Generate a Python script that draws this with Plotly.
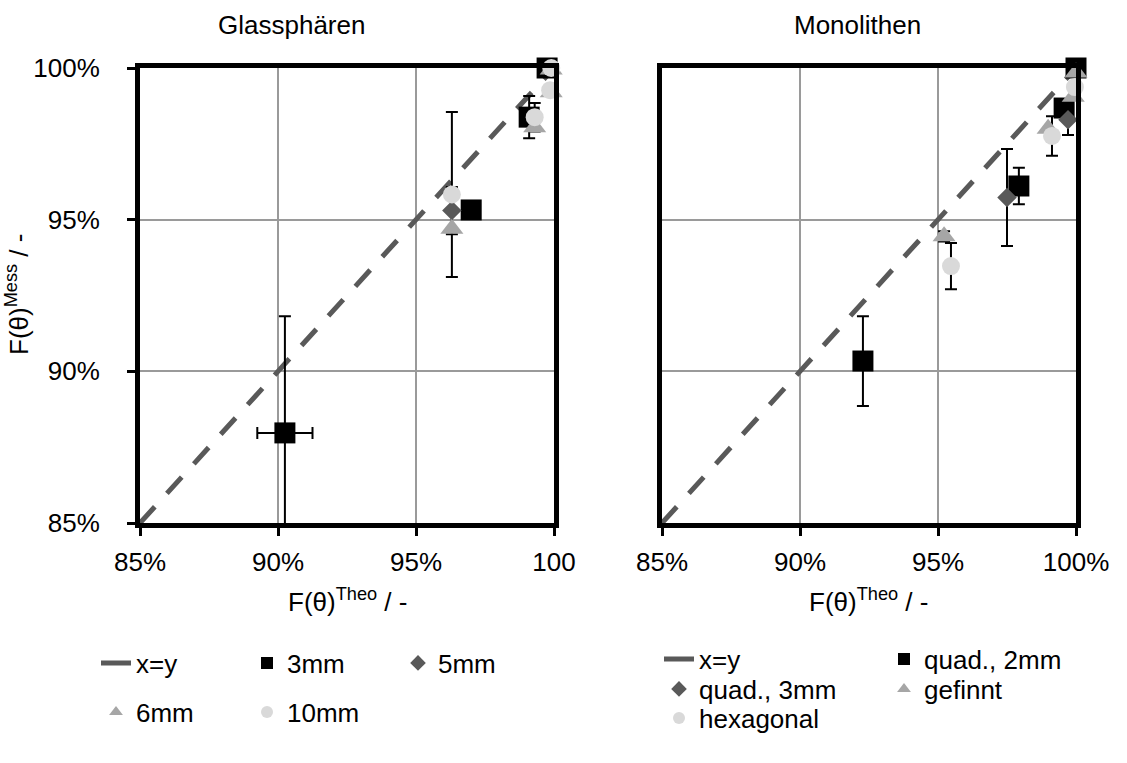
import plotly.graph_objects as go

W, H = 1127, 763
FONT = "Liberation Sans, Arial, sans-serif"
FS = 26

# ---------------- data (percent) ----------------
diag = [85, 100]

# Glassphären
g3_x = [90.25, 97.0, 99.1, 99.75]
g3_y = [87.97, 95.32, 98.38, 100.0]
g3_ey = [3.85, None, 0.7, None]
g3_ex = [1.0, None, None, None]

g5_x = [96.3]
g5_y = [95.3]
g5_ey = [0.78]

g6_x = [96.3, 99.3, 99.9, 99.9]
g6_y = [94.7, 98.05, 99.2, 99.95]

g10_x = [96.3, 99.3, 99.86, 99.9]
g10_y = [95.83, 98.38, 99.27, 100.0]
g10_ey = [2.72, 0.47, None, None]

# Monolithen
mq2_x = [92.28, 97.93, 99.57, 100.0]
mq2_y = [90.34, 96.11, 98.68, 100.0]
mq2_ey = [1.48, 0.6, None, None]

mq3_x = [97.5, 99.71, 100.08, 100.1]
mq3_y = [95.73, 98.29, 99.3, 100.0]
mq3_ey = [1.6, 0.5, None, None]

mfin_x = [95.22, 98.99, 99.9, 100.0]
mfin_y = [94.45, 98.0, 99.05, 99.85]
mfin_ey = [0.17, None, None, None]

mhex_x = [95.47, 99.13, 99.96, 100.05]
mhex_y = [93.47, 97.76, 99.37, 100.0]
mhex_ey = [0.76, 0.65, None, None]

tickvals = [85, 90, 95, 100]
ticktext_left = ["85%", "90%", "95%", "100"]
ticktext_right = ["85%", "90%", "95%", "100%"]

# ---------------- styles ----------------
C_SQ, C_DI, C_TR, C_CI = "#000000", "#595959", "#a6a6a6", "#d9d9d9"
M_SQ = dict(symbol="square", size=21, color=C_SQ)
M_DI = dict(symbol="diamond", size=15, color=C_DI)
M_TR = dict(symbol="triangle-up", size=20, color=C_TR)
M_CI = dict(symbol="circle", size=18, color=C_CI)

fig = go.Figure()


def err(arr):
    return dict(type="data", array=arr, visible=True, color="black", thickness=2, width=6)


def add_panel(xa, ya, series, line_legend):
    # x=y dashed line
    fig.add_trace(go.Scatter(x=diag, y=diag, mode="lines", xaxis=xa, yaxis=ya,
                             line=dict(color="#595959", width=5, dash="22px,18px"),
                             showlegend=False, hoverinfo="skip", cliponaxis=True))
    # legend entry (solid line)
    fig.add_trace(go.Scatter(x=[None], y=[None], mode="lines", xaxis=xa, yaxis=ya,
                             line=dict(color="#595959", width=5), name="x=y",
                             legend=line_legend, showlegend=True))
    # error bars (clipped to plot area)
    for s in series:
        if s.get("ey") is not None or s.get("ex") is not None:
            fig.add_trace(go.Scatter(
                x=s["x"], y=s["y"], mode="markers", xaxis=xa, yaxis=ya,
                marker=dict(size=1, opacity=0), showlegend=False, hoverinfo="skip",
                error_y=err(s["ey"]) if s.get("ey") is not None else None,
                error_x=err(s["ex"]) if s.get("ex") is not None else None,
                cliponaxis=True))
    # markers
    for s in series:
        fig.add_trace(go.Scatter(x=s["x"], y=s["y"], mode="markers", xaxis=xa, yaxis=ya,
                                 marker=s["m"], name=s["name"], legend=s["legend"],
                                 showlegend=True, cliponaxis=False))


add_panel("x", "y", [
    dict(x=g3_x, y=g3_y, ey=g3_ey, ex=g3_ex, m=M_SQ, name="3mm", legend="legend"),
    dict(x=g5_x, y=g5_y, ey=g5_ey, m=M_DI, name="5mm", legend="legend"),
    dict(x=g6_x, y=g6_y, m=M_TR, name="6mm", legend="legend2"),
    dict(x=g10_x, y=g10_y, ey=g10_ey, m=M_CI, name="10mm", legend="legend2"),
], "legend")

add_panel("x2", "y2", [
    dict(x=mq2_x, y=mq2_y, ey=mq2_ey, m=M_SQ, name="quad., 2mm", legend="legend3"),
    dict(x=mq3_x, y=mq3_y, ey=mq3_ey, m=M_DI, name="quad., 3mm", legend="legend4"),
    dict(x=mfin_x, y=mfin_y, ey=mfin_ey, m=M_TR, name="gefinnt", legend="legend4"),
    dict(x=mhex_x, y=mhex_y, ey=mhex_ey, m=M_CI, name="hexagonal", legend="legend5"),
], "legend3")

# ---------------- layout ----------------
def px_x(p):
    return p / W


def px_y(p):
    return 1 - p / H


axis_common = dict(range=[85, 100], showline=True, linecolor="black", linewidth=5, mirror=True,
                   showgrid=True, gridcolor="#9a9a9a", gridwidth=2, zeroline=False,
                   tickvals=tickvals, tickfont=dict(family=FONT, size=FS, color="black"))

yd = [px_y(523), px_y(68)]
fig.update_layout(
    width=W, height=H, margin=dict(l=0, r=0, t=0, b=0, autoexpand=False),
    paper_bgcolor="white", plot_bgcolor="white",
    font=dict(family=FONT, size=FS, color="black"),
    xaxis=dict(domain=[px_x(140), px_x(554)], anchor="y", ticktext=ticktext_left,
               ticks="outside", ticklen=8, tickwidth=3, tickcolor="black",
               ticklabelstandoff=4, **axis_common),
    yaxis=dict(domain=yd, anchor="x", ticktext=ticktext_right,
               ticks="outside", ticklen=8, tickwidth=3, tickcolor="black",
               ticklabelstandoff=22, **axis_common),
    xaxis2=dict(domain=[px_x(662), px_x(1076)], anchor="y2", ticktext=ticktext_right,
                ticks="outside", ticklen=8, tickwidth=3, tickcolor="black",
                ticklabelstandoff=4, **axis_common),
    yaxis2=dict(domain=yd, anchor="x2", ticktext=ticktext_right, showticklabels=False,
                ticks="", **axis_common),
    hovermode=False,
)

leg_common = dict(orientation="h", xanchor="left", yanchor="middle", bgcolor="rgba(0,0,0,0)",
                  font=dict(family=FONT, size=FS, color="black"), itemsizing="constant",
                  entrywidthmode="pixels", itemclick=False, itemdoubleclick=False)
fig.update_layout(
    legend=dict(x=px_x(96), y=px_y(663), entrywidth=106, **leg_common),
    legend2=dict(x=px_x(96), y=px_y(712), entrywidth=106, **leg_common),
    legend3=dict(x=px_x(659), y=px_y(659), entrywidth=180, **leg_common),
    legend4=dict(x=px_x(659), y=px_y(689), entrywidth=180, **leg_common),
    legend5=dict(x=px_x(659), y=px_y(718), entrywidth=180, **leg_common),
)

ann = [
    dict(text="Glassphären", x=px_x(291), y=px_y(25)),
    dict(text="Monolithen", x=px_x(857), y=px_y(25)),
    dict(text="F(θ)<sup>Theo</sup> / -", x=px_x(347), y=px_y(600)),
    dict(text="F(θ)<sup>Theo</sup> / -", x=px_x(869), y=px_y(600)),
    dict(text="F(θ)<sup>Mess</sup> / -", x=px_x(18), y=px_y(295), textangle=-90),
]
for a in ann:
    fig.add_annotation(xref="paper", yref="paper", showarrow=False, xanchor="center",
                       yanchor="middle", font=dict(family=FONT, size=FS, color="black"), **a)

fig.write_html("out.html")
